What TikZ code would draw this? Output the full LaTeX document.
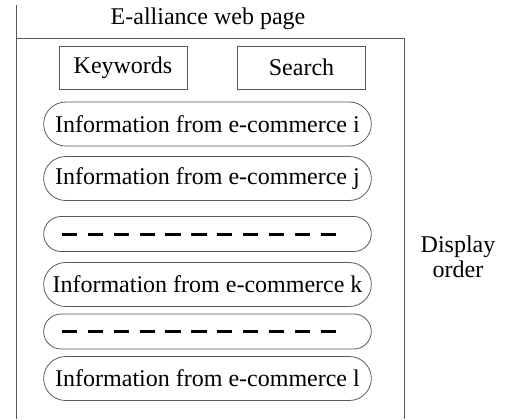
\documentclass[tikz,border=0pt]{standalone}
\usepackage{fontspec}
\setmainfont{Liberation Serif}
\usetikzlibrary{shapes.misc}
\usetikzlibrary{positioning}
\tikzset{
every node/.style={ % Sets the font of all texts
font=\fontsize{12}{12.5}\selectfont},
field/.style={ % Keywords and Search boxes
draw=black!65, thin,
minimum width=64pt, minimum height=21.5pt},
entry/.style={ % Rounded rows of the page
rounded rectangle, draw=black!65, thin,
minimum width=170.5pt, minimum height=22pt},
gap/.style={ % Rows with only dashes
entry, minimum height=17.5pt},
frame/.style={draw=black!65, thin},
dashline/.style={line width=1.5pt, dash pattern=on 7.6pt off 5.33pt}}

\begin{document}
\begin{tikzpicture}[x=0.5pt, y=-0.5pt]
	\useasboundingbox (0,0) rectangle (515,419);
	\coordinate (tl) at (16,5);
	\coordinate (bl) at (16,419);
	\coordinate (cl) at (16,38);
	\coordinate (cr) at (404,38);
	\coordinate (br) at (404,419);
	\draw[frame] (tl) -- (bl);
	\draw[frame] (cl) -- (cr) -- (br);
	\node (title) at (208,19) {E-alliance web page};
	\node[field] (kw) at (123,67.5) {Keywords};
	\node[field] (srch) at (301.5,67.5) {Search};
	\node[entry] (ei) at (207.5,124) {Information from e-commerce i};
	\node[entry] (ej) at (207.5,178.5) {Information from e-commerce j};
	\node[gap] (d1) at (207.5,234) {};
	\node[entry] (ek) at (207.5,284.5) {Information from e-commerce k};
	\node[gap] (d2) at (207.5,331.5) {};
	\node[entry] (el) at (207.5,378.5) {Information from e-commerce l};
	\draw[dashline] ([xshift=-72.75pt]d1.center) -- ([xshift=64.75pt]d1.center);
	\draw[dashline] ([xshift=-72.75pt]d2.center) -- ([xshift=64.75pt]d2.center);
	\node[align=center] (disp) at (458,257) {Display\\order};
\end{tikzpicture}
\end{document}
